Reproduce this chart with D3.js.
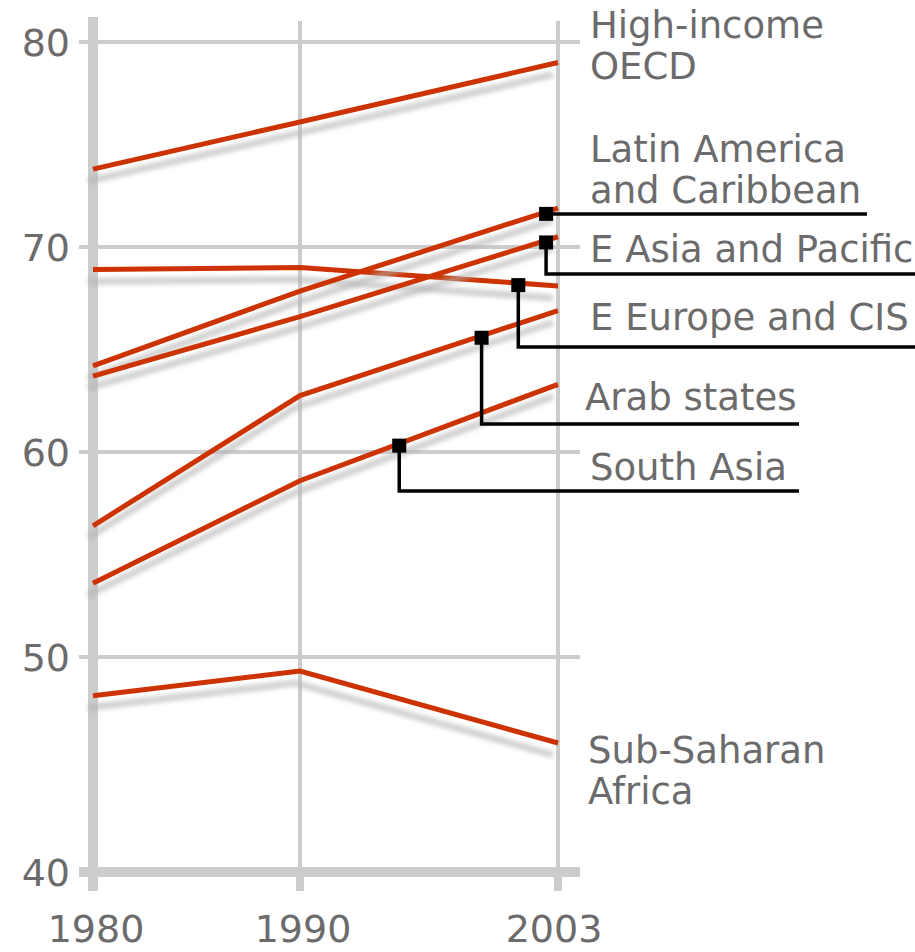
<!DOCTYPE html>
<html>
<head>
<meta charset="utf-8">
<script src="https://cdn.jsdelivr.net/npm/d3@7"></script>
<style>
  html, body { margin: 0; padding: 0; background: #fff; }
  svg { display: block; }
  text { font-family: "DejaVu Sans", Verdana, sans-serif; fill: #6b6b6b; }
</style>
</head>
<body>
<svg id="chart" width="915" height="952"></svg>
<script>
// Life expectancy at birth (years), by region
const years = [1980, 1990, 2003];
const yTicks = [40, 50, 60, 70, 80];

const highIncomeOECD   = [73.8, 76.1, 79.0];
const eEuropeCIS       = [68.9, 69.0, 68.1];
const latinAmerica     = [64.2, 67.85, 71.9];
const eAsiaPacific     = [63.7, 66.6, 70.5];
const arabStates       = [56.4, 62.75, 66.9];
const southAsia        = [53.6, 58.6, 63.3];
const subSaharanAfrica = [48.2, 49.35, 46.0];

const seriesNames = [
  "High-income OECD", "E Europe and CIS", "Latin America and Caribbean",
  "E Asia and Pacific", "Arab states", "South Asia", "Sub-Saharan Africa"
];
const seriesValues = [
  highIncomeOECD, eEuropeCIS, latinAmerica, eAsiaPacific,
  arabStates, southAsia, subSaharanAfrica
];

const series = seriesNames.map((name, i) => ({
  name,
  points: years.map((yr, j) => ({ year: yr, value: seriesValues[i][j] }))
}));

// Label layout: text lines, position, and optional leader (anchor year on the line,
// elbow y and end x of the horizontal rule)
const labelLayout = [
  { name: "High-income OECD", lines: ["High-income", "OECD"], x: 590, y: 38 },
  { name: "Latin America and Caribbean", lines: ["Latin America", "and Caribbean"], x: 590, y: 162,
    leader: { year: 2002.4, ruleY: null, endX: 867 } },
  { name: "E Asia and Pacific", lines: ["E Asia and Pacific"], x: 590, y: 262,
    leader: { year: 2002.4, ruleY: 274, endX: 930 } },
  { name: "E Europe and CIS", lines: ["E Europe and CIS"], x: 590, y: 330,
    leader: { year: 2001.0, ruleY: 347, endX: 930 } },
  { name: "Arab states", lines: ["Arab states"], x: 585, y: 410,
    leader: { year: 1999.15, ruleY: 424, endX: 799 } },
  { name: "South Asia", lines: ["South Asia"], x: 590, y: 480,
    leader: { year: 1995.0, ruleY: 491, endX: 799 } },
  { name: "Sub-Saharan Africa", lines: ["Sub-Saharan", "Africa"], x: 588, y: 763 }
];

const svg = d3.select("#chart");

const x = d3.scaleLinear().domain([1980, 1990, 2003]).range([93, 300, 558]);
const y = d3.scaleLinear().domain([40, 50, 80]).range([872, 657, 42]);

const red = "#cc3300";
const grid = "#cccccc";

// Shadow blur
const defs = svg.append("defs");
defs.append("filter").attr("id", "soft")
  .attr("x", "-10%").attr("y", "-50%").attr("width", "120%").attr("height", "200%")
  .append("feGaussianBlur").attr("stdDeviation", 2.2);

// Grid
const g = svg.append("g");
g.selectAll("line.h").data(yTicks.filter(d => d > 40)).join("line")
  .attr("x1", 79).attr("x2", 580)
  .attr("y1", d => y(d)).attr("y2", d => y(d))
  .attr("stroke", grid).attr("stroke-width", 4);

g.selectAll("line.v").data(years.slice(1)).join("line")
  .attr("x1", d => x(d)).attr("x2", d => x(d))
  .attr("y1", 21).attr("y2", y(40))
  .attr("stroke", grid).attr("stroke-width", 4);

g.selectAll("line.vt").data(years.slice(1)).join("line")
  .attr("x1", d => x(d)).attr("x2", d => x(d))
  .attr("y1", y(40)).attr("y2", 891)
  .attr("stroke", grid).attr("stroke-width", 8);

// Baseline and left axis
g.append("line").attr("x1", 79).attr("x2", 580)
  .attr("y1", y(40)).attr("y2", y(40))
  .attr("stroke", grid).attr("stroke-width", 10);
g.append("line").attr("x1", x(1980)).attr("x2", x(1980))
  .attr("y1", 17).attr("y2", 891)
  .attr("stroke", grid).attr("stroke-width", 10);

// Tick labels
svg.selectAll("text.ytick").data(yTicks).join("text")
  .attr("class", "ytick")
  .attr("x", 70).attr("y", d => y(d)).attr("dy", "0.36em")
  .attr("text-anchor", "end").style("font-size", "38px")
  .text(d => d);

svg.selectAll("text.xtick").data(years).join("text")
  .attr("class", "xtick")
  .attr("x", d => x(d) + (d === 2003 ? -4 : 3)).attr("y", 942)
  .attr("text-anchor", "middle").style("font-size", "38px")
  .text(d => d);

// Lines with drop shadows
const line = d3.line().x(d => x(d.year)).y(d => y(d.value));
series.forEach(s => {
  const sg = svg.append("g");
  sg.append("path").datum(s.points)
    .attr("d", line)
    .attr("fill", "none").attr("stroke", "#b4b4b4").attr("stroke-width", 7)
    .attr("opacity", 0.6)
    .attr("transform", "translate(-5,12)")
    .attr("filter", "url(#soft)");
  sg.append("path").datum(s.points)
    .attr("d", line)
    .attr("fill", "none").attr("stroke", red).attr("stroke-width", 5);
});

// Value of a series at any year (linear between observations)
function valueAt(points, yr) {
  for (let i = 0; i < points.length - 1; i++) {
    const a = points[i], b = points[i + 1];
    if (yr >= a.year && yr <= b.year) {
      const t = (yr - a.year) / (b.year - a.year);
      return a.value + t * (b.value - a.value);
    }
  }
  return points[points.length - 1].value;
}

// Labels and leaders
labelLayout.forEach(l => {
  const t = svg.append("text").attr("x", l.x).attr("y", l.y).style("font-size", "37px");
  l.lines.forEach((ln, i) => {
    t.append("tspan").attr("x", l.x).attr("dy", i === 0 ? 0 : 41).text(ln);
  });
  if (l.leader) {
    const s = series.find(d => d.name === l.name);
    const ax = x(l.leader.year);
    const ay = y(valueAt(s.points, l.leader.year)) + 2;
    const ry = l.leader.ruleY == null ? ay : l.leader.ruleY;
    svg.append("path")
      .attr("d", `M${ax},${ay}V${ry}H${l.leader.endX}`)
      .attr("fill", "none").attr("stroke", "#000").attr("stroke-width", 3.5);
    svg.append("rect")
      .attr("x", ax - 7).attr("y", ay - 7).attr("width", 14).attr("height", 14)
      .attr("fill", "#000");
  }
});
</script>
</body>
</html>
